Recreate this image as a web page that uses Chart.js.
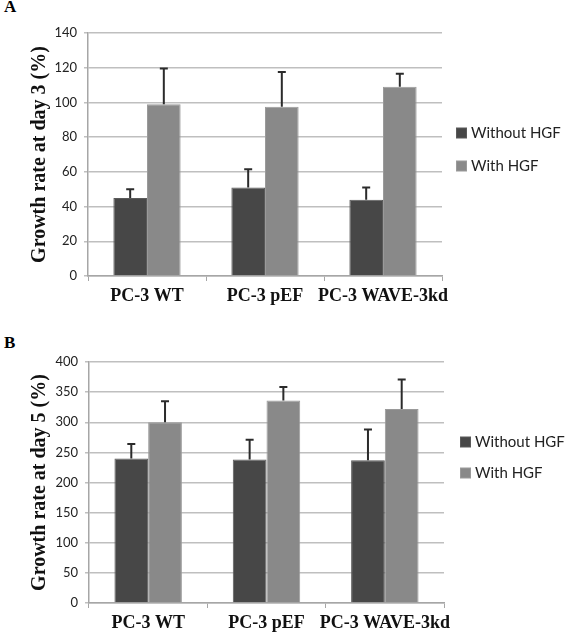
<!DOCTYPE html>
<html>
<head>
<meta charset="utf-8">
<script src="https://cdn.jsdelivr.net/npm/chart.js@4"></script>
<style>
body { margin: 0; background: #fff; width: 566px; height: 635px; position: relative; overflow: hidden; }
.panel { position: absolute; left: 0; width: 566px; }
.tag { position: absolute; left: 4px; font: bold 17px "Liberation Serif", serif; color: #000; }
</style>
</head>
<body>
<div class="tag" style="top:-3px">A</div>
<div class="panel" style="top:0; height:315px"><canvas id="chartA"></canvas></div>
<div class="tag" style="top:333px">B</div>
<div class="panel" style="top:330px; height:305px"><canvas id="chartB"></canvas></div>
<script>
// Données
const categories = ['PC-3 WT', 'PC-3 pEF', 'PC-3 WAVE-3kd'];
const seriesNames = ['Without HGF', 'With HGF'];

const day3Without = [45, 51, 44];
const day3WithoutErr = [5, 10.5, 7];
const day3With = [99, 97.5, 109];
const day3WithErr = [20.5, 20, 7.5];

const day5Without = [240, 238, 237];
const day5WithoutErr = [24, 33, 51];
const day5With = [300, 336, 322];
const day5WithErr = [35, 22.5, 49];

const day3Max = 140, day3Step = 20;
const day5Max = 400, day5Step = 50;

// Barres d'erreur (vers le haut uniquement)
const errorBars = {
    id: 'errorBars',
    afterDatasetsDraw(chart) {
        const ctx = chart.ctx;
        const yScale = chart.scales.y;
        chart.data.datasets.forEach((ds, i) => {
            chart.getDatasetMeta(i).data.forEach((bar, j) => {
                const top = yScale.getPixelForValue(ds.data[j] + ds.errors[j]);
                ctx.save();
                ctx.strokeStyle = '#2b2b2b';
                ctx.lineWidth = 2;
                ctx.beginPath();
                ctx.moveTo(bar.x, bar.y);
                ctx.lineTo(bar.x, top);
                ctx.moveTo(bar.x - 4, top);
                ctx.lineTo(bar.x + 4, top);
                ctx.stroke();
                ctx.restore();
            });
        });
    }
};

// Légende à droite, placée à la main
const sideLegend = {
    id: 'sideLegend',
    afterDraw(chart, args, opts) {
        const ctx = chart.ctx;
        const area = chart.chartArea;
        chart.data.datasets.forEach((ds, i) => {
            const x = area.right + opts.dx;
            const cy = area.top + opts.dy + i * opts.gap;
            ctx.save();
            ctx.fillStyle = ds.borderColor;
            ctx.fillRect(x, cy - 5.5, 11, 11);
            ctx.fillStyle = ds.backgroundColor;
            ctx.fillRect(x + 1, cy - 4.5, 9, 9);
            ctx.fillStyle = '#222';
            ctx.font = '15px Lato';
            ctx.textBaseline = 'middle';
            ctx.fillText(ds.label, x + 15, cy);
            ctx.restore();
        });
    }
};

function makeChart(id, without, withoutErr, withHgf, withErr, yMax, yStep, yTitle, cfg) {
    const ctx = document.getElementById(id).getContext('2d');
    return new Chart(ctx, {
        type: 'bar',
        data: {
            labels: categories,
            datasets: [
                {
                    label: seriesNames[0],
                    data: without,
                    errors: withoutErr,
                    backgroundColor: '#474747',
                    borderColor: '#5a5a5a',
                    borderWidth: 1,
                    categoryPercentage: 0.57,
                    barPercentage: 1.0
                },
                {
                    label: seriesNames[1],
                    data: withHgf,
                    errors: withErr,
                    backgroundColor: '#898989',
                    borderColor: '#9a9a9a',
                    borderWidth: 1,
                    categoryPercentage: 0.57,
                    barPercentage: 1.0
                }
            ]
        },
        options: {
            responsive: true,
            maintainAspectRatio: false,
            animation: false,
            layout: { padding: { left: 0, top: cfg.top, right: cfg.right, bottom: 0 } },
            scales: {
                x: {
                    grid: { display: true, drawOnChartArea: false, tickLength: 5, color: '#a6a6a6', offset: true },
                    border: { color: '#a6a6a6', width: 1.5 },
                    ticks: {
                        font: { family: 'Liberation Serif', weight: 'bold', size: 18 },
                        color: '#111',
                        padding: 5,
                        autoSkip: false,
                        maxRotation: 0,
                        minRotation: 0
                    },
                    afterFit(scale) { scale.height = cfg.xHeight; }
                },
                y: {
                    min: 0,
                    max: yMax,
                    grid: { color: '#bfbfbf', lineWidth: 1.5, tickLength: 4 },
                    border: { color: '#a6a6a6', width: 1.5 },
                    ticks: {
                        stepSize: yStep,
                        font: { family: 'Lato', size: 13 },
                        color: '#222',
                        padding: 7
                    },
                    title: {
                        display: true,
                        text: yTitle,
                        font: { family: 'Liberation Serif', weight: 'bold', size: 20 },
                        color: '#111',
                        padding: { top: 28, bottom: 0 }
                    },
                    afterFit(scale) { scale.width = cfg.left; }
                }
            },
            plugins: {
                legend: { display: false },
                tooltip: { enabled: false },
                sideLegend: cfg.legend
            }
        },
        plugins: [errorBars, sideLegend]
    });
}

makeChart('chartA', day3Without, day3WithoutErr, day3With, day3WithErr, day3Max, day3Step,
    'Growth rate at day 3 (%)',
    { top: 33, right: 124, left: 88, xHeight: 39, legend: { dx: 14, dy: 100, gap: 33 } });

makeChart('chartB', day5Without, day5WithoutErr, day5With, day5WithErr, day5Max, day5Step,
    'Growth rate at day 5 (%)',
    { top: 32, right: 122, left: 89, xHeight: 32, legend: { dx: 16, dy: 80, gap: 31 } });
</script>
</body>
</html>
